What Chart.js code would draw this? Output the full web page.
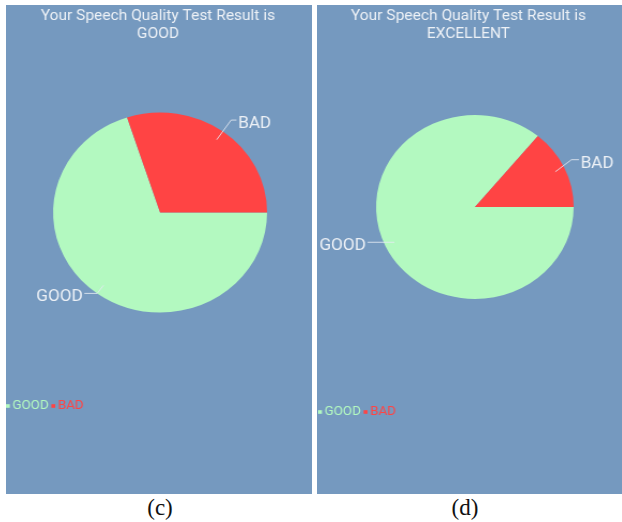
<!DOCTYPE html>
<html>
<head>
<meta charset="utf-8">
<script src="https://cdn.jsdelivr.net/npm/chart.js@4/dist/chart.umd.min.js"></script>
<style>
  html, body { margin: 0; padding: 0; background: #fff; width: 622px; height: 522px; overflow: hidden; }
  .panel { position: absolute; top: 5px; height: 489px; background: #7599BF; overflow: hidden; }
  .stretch { position: absolute; left: 0; top: 0; transform-origin: 0 0; }
  .cap { position: absolute; top: 495px; width: 80px; text-align: center;
         font-family: "Liberation Serif", "Times New Roman", serif; font-size: 23px; color: #111; }
</style>
</head>
<body>
<div class="panel" style="left:6px;width:306px">
  <div class="stretch" style="transform:scaleX(1.07)"><canvas id="chartGood" width="286" height="489"></canvas></div>
</div>
<div class="panel" style="left:317px;width:305px">
  <div class="stretch" style="transform:scaleX(1.074)"><canvas id="chartExcellent" width="284" height="489"></canvas></div>
</div>
<div class="cap" style="left:120px">(c)</div>
<div class="cap" style="left:425px">(d)</div>

<script>
// Result categories and the share of each in the two tests
const categories = ['GOOD', 'BAD'];
const goodTestShares = [70, 30];
const excellentTestShares = [86, 14];

// Heading lines above each pie
const goodTitle = ['Your Speech Quality Test Result is', 'GOOD'];
const excellentTitle = ['Your Speech Quality Test Result is', 'EXCELLENT'];

const sliceColors = ['#B3F9C0', '#FF4444'];
const textColor = '#EDF1F6';
const FONT = 'Roboto, "Noto Sans", sans-serif';

// Draws outside labels with leader lines, the heading and a compact legend
const pieDecor = {
  id: 'pieDecor',
  afterDatasetsDraw(chart, args, o) {
    const ctx = chart.ctx;
    const meta = chart.getDatasetMeta(0);
    ctx.save();
    ctx.font = '16px ' + FONT;
    meta.data.forEach((arc, i) => {
      const p = arc.getProps(['x', 'y', 'startAngle', 'endAngle', 'outerRadius'], true);
      const mid = (p.startAngle + p.endAngle) / 2;
      const c = Math.cos(mid), s = Math.sin(mid);
      const r = p.outerRadius;
      const x0 = p.x + c * r * o.lineStart, y0 = p.y + s * r * o.lineStart;
      const x1 = p.x + c * r * o.bend[i], y1 = p.y + s * r * o.bend[i] - o.lift[i];
      const dir = c >= 0 ? 1 : -1;
      const x2 = x1 + dir * o.part2[i];
      ctx.strokeStyle = 'rgba(228,234,242,0.85)';
      ctx.lineWidth = 1;
      ctx.beginPath();
      ctx.moveTo(x0, y0);
      ctx.lineTo(x1, y1);
      ctx.lineTo(x2, y1);
      ctx.stroke();
      ctx.fillStyle = textColor;
      ctx.textAlign = dir > 0 ? 'left' : 'right';
      ctx.textBaseline = 'alphabetic';
      ctx.fillText(chart.data.labels[i], x2 + dir * 1.5, y1 + 8);
    });
    ctx.restore();
  },
  afterDraw(chart, args, o) {
    const ctx = chart.ctx;
    ctx.save();
    // heading
    ctx.font = '14.5px ' + FONT;
    ctx.fillStyle = textColor;
    ctx.textAlign = 'center';
    ctx.textBaseline = 'middle';
    o.title.forEach((line, k) => ctx.fillText(line, chart.width / 2 - 1, 11 + k * 18));
    // legend
    ctx.font = '12.5px ' + FONT;
    ctx.textAlign = 'left';
    let x = o.legendX;
    const colors = chart.data.datasets[0].backgroundColor;
    chart.data.labels.forEach((lab, i) => {
      ctx.fillStyle = colors[i];
      ctx.fillRect(x, o.legendY - 1.8, 3.6, 3.6);
      x += 6;
      ctx.fillText(lab, x, o.legendY);
      x += ctx.measureText(lab).width + 2.5;
    });
    ctx.restore();
  }
};

function makePie(id, shares, title, pad, labelOpts, legendY, legendX) {
  return new Chart(document.getElementById(id), {
    type: 'pie',
    data: {
      labels: categories,
      datasets: [{ data: shares, backgroundColor: sliceColors, borderWidth: 0 }]
    },
    options: {
      responsive: false,
      devicePixelRatio: 1,
      animation: false,
      events: [],
      rotation: 90,
      layout: { padding: pad },
      plugins: {
        legend: { display: false },
        title: { display: false },
        tooltip: { enabled: false },
        pieDecor: Object.assign({ title, legendY, legendX, lineStart: 0.9 }, labelOpts)
      }
    },
    plugins: [pieDecor]
  });
}

makePie('chartGood', goodTestShares, goodTitle,
  { left: 44, right: 42, top: 107.5, bottom: 181.5 },
  { bend: [1.0, 1.13], lift: [0, 1], part2: [12, 5] }, 401, 0);

makePie('chartExcellent', excellentTestShares, excellentTitle,
  { left: 55, right: 45, top: 110, bottom: 195 },
  { bend: [0.9, 1.08], lift: [0, 5], part2: [25, 7] }, 407, 1);
</script>
</body>
</html>
